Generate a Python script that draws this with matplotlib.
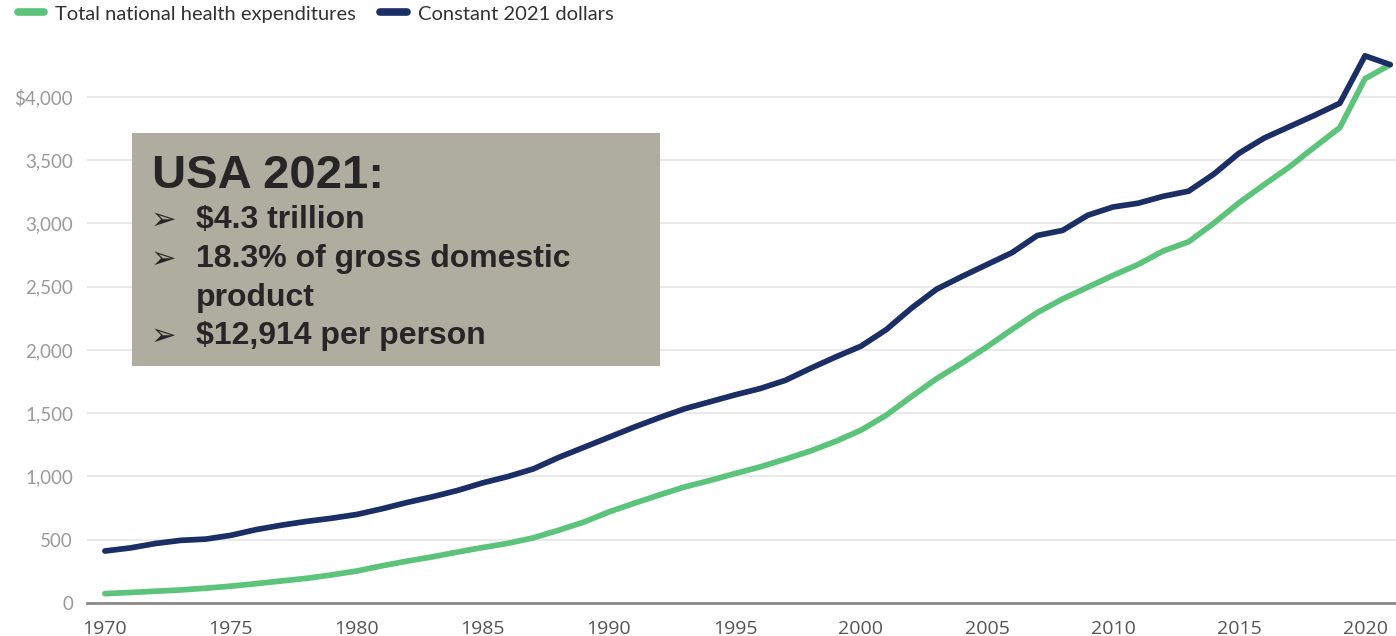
import matplotlib
matplotlib.use("Agg")
import matplotlib.pyplot as plt
from matplotlib.patches import Rectangle
from matplotlib.ticker import FuncFormatter

years = list(range(1970, 2022))

# total national health expenditures, billions of dollars
total_nhe = [74, 83, 93, 103, 117, 133, 153, 174, 195, 222,
             253, 294, 331, 365, 403, 439, 472, 515, 575, 639,
             720, 788, 854, 917, 968, 1023, 1076, 1137, 1202, 1278,
             1366, 1484, 1631, 1773, 1895, 2025, 2163, 2296, 2403, 2496,
             2589, 2676, 2783, 2855, 3002, 3163, 3307, 3447, 3604, 3757,
             4144, 4255]

# same series in constant 2021 dollars
constant_2021 = [411, 435, 470, 495, 505, 535, 580, 615, 645, 670,
                 700, 745, 795, 840, 890, 950, 1000, 1060, 1150, 1230,
                 1310, 1390, 1465, 1535, 1590, 1645, 1695, 1760, 1855, 1945,
                 2030, 2160, 2330, 2480, 2580, 2675, 2770, 2905, 2945, 3065,
                 3130, 3160, 3215, 3255, 3390, 3555, 3675, 3765, 3855, 3950,
                 4325, 4255]

series_names = ["Total national health expenditures", "Constant 2021 dollars"]
x_ticks = list(range(1970, 2021, 5))
y_ticks = list(range(0, 4001, 500))

box_title = "USA 2021:"
box_items = ["$4.3 trillion", "18.3% of gross domestic", "product", "$12,914 per person"]
box_bullets = [True, True, False, True]

GREEN = "#5cc47a"
NAVY = "#1b2f66"

fig = plt.figure(figsize=(13.96, 6.36), dpi=100)
ax = fig.add_axes([87 / 1396, 33 / 636, 1 - 87 / 1396, (603 - 40) / 636])

ax.plot(years, total_nhe, color=GREEN, lw=4.1, solid_capstyle="round",
        solid_joinstyle="round", label=series_names[0], zorder=3)
ax.plot(years, constant_2021, color=NAVY, lw=4.1, solid_capstyle="round",
        solid_joinstyle="round", label=series_names[1], zorder=4)

ax.set_xlim(1969.29, 2021.23)
ax.set_ylim(0, 4450)
ax.set_xticks(x_ticks)
ax.set_yticks(y_ticks)
ax.yaxis.set_major_formatter(FuncFormatter(
    lambda v, p: "$4,000" if v == 4000 else ("0" if v == 0 else f"{int(v):,}")))

for s in ["top", "right", "left"]:
    ax.spines[s].set_visible(False)
ax.spines["bottom"].set_color("#8a8a8a")
ax.spines["bottom"].set_linewidth(2.0)
ax.grid(axis="y", color="#e9e9e9", lw=1.4, zorder=0)
ax.set_axisbelow(True)

ax.tick_params(axis="y", length=0, pad=10, labelsize=13.5, labelcolor="#9a9a9a")
ax.tick_params(axis="x", length=0, pad=12, labelsize=14, labelcolor="#555555")
for lab in ax.get_yticklabels():
    lab.set_fontfamily("Lato")
for lab in ax.get_xticklabels():
    lab.set_fontfamily("Open Sans")

leg = fig.legend(loc="upper left", bbox_to_anchor=(0.0, 1.02), ncol=2, frameon=False,
                 handlelength=1.3, handletextpad=0.55, columnspacing=1.2,
                 prop={"family": "Lato", "size": 14.5})
for t in leg.get_texts():
    t.set_color("#333333")
for h in leg.legend_handles:
    h.set_linewidth(5.5)
    h.set_solid_capstyle("round")

# annotation box
fig.patches.append(Rectangle((132 / 1396, 1 - 366 / 636), (660 - 132) / 1396,
                             (366 - 133) / 636, transform=fig.transFigure,
                             facecolor="#afada0", edgecolor="none", zorder=5))
fig.text(152 / 1396, 1 - 176 / 636, box_title, fontsize=34, fontweight="bold",
         family="Liberation Sans", color="#262626", va="center", zorder=6)
line_y = [220, 259, 298, 336]
for ypix, item, bullet in zip(line_y, box_items, box_bullets):
    if bullet:
        fig.text(151 / 1396, 1 - ypix / 636, "\u27a2", fontsize=22,
                 family=["DejaVu Sans"], color="#262626", va="center", zorder=6)
    fig.text(196 / 1396, 1 - ypix / 636, item, fontsize=23, fontweight="bold",
             family="Liberation Sans", color="#262626", va="center", zorder=6)

fig.savefig("out.png", dpi=100)
